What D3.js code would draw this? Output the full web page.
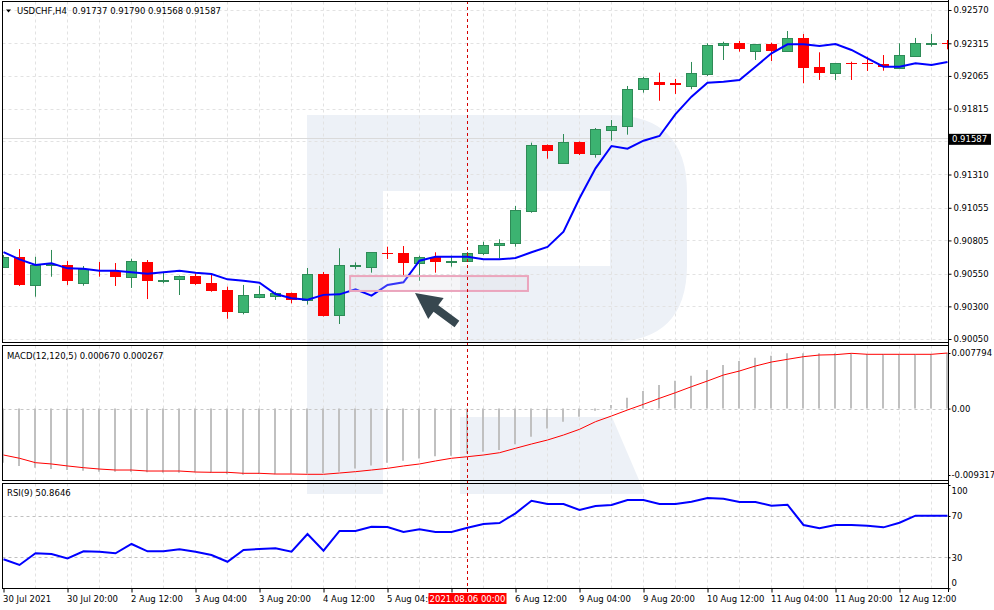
<!DOCTYPE html>
<html>
<head>
<meta charset="utf-8">
<script src="https://cdn.jsdelivr.net/npm/d3@7"></script>
<style>
	body { margin: 0; background: #fff; }
	svg text { font-family: "DejaVu Sans", sans-serif; font-size: 8.5px; fill: #000; white-space: pre; }
</style>
</head>
<body>
<div id="chart"></div>
<script>
// USDCHF H4 candles, index 0 = 30 Jul 04:00
const opens = [
	0.90604, 0.90676, 0.90466, 0.90617, 0.90617, 0.90477, 0.90578, 0.90571, 0.90527, 0.90640,
	0.90496, 0.90507, 0.90532, 0.90479, 0.90425, 0.90259, 0.90374, 0.90382, 0.90402, 0.90349,
	0.90548, 0.90234, 0.90614, 0.90604, 0.90709, 0.90706, 0.90630, 0.90680, 0.90645, 0.90651,
	0.90711, 0.90768, 0.90783, 0.91033, 0.91534, 0.91400, 0.91559, 0.91469, 0.91653, 0.91679,
	0.91963, 0.92019, 0.92011, 0.91990, 0.92082, 0.92300, 0.92317, 0.92258, 0.92312, 0.92258,
	0.92358, 0.92133, 0.92090, 0.92166, 0.92166, 0.92156, 0.92128, 0.92220, 0.92313, 0.92315,
];
const highs = [
	0.90693, 0.90739, 0.90680, 0.90732, 0.90647, 0.90609, 0.90640, 0.90632, 0.90665, 0.90655,
	0.90565, 0.90536, 0.90553, 0.90542, 0.90451, 0.90464, 0.90456, 0.90412, 0.90406, 0.90594,
	0.90563, 0.90745, 0.90637, 0.90716, 0.90757, 0.90762, 0.90688, 0.90714, 0.90688, 0.90716,
	0.90795, 0.90814, 0.91069, 0.91554, 0.91540, 0.91620, 0.91563, 0.91666, 0.91727, 0.91988,
	0.92059, 0.92090, 0.92042, 0.92172, 0.92315, 0.92327, 0.92333, 0.92310, 0.92320, 0.92409,
	0.92386, 0.92246, 0.92164, 0.92174, 0.92212, 0.92225, 0.92315, 0.92356, 0.92386, 0.92340,
];
const lows = [
	0.90594, 0.90456, 0.90374, 0.90527, 0.90464, 0.90458, 0.90527, 0.90456, 0.90441, 0.90356,
	0.90477, 0.90387, 0.90464, 0.90412, 0.90205, 0.90239, 0.90362, 0.90349, 0.90323, 0.90314,
	0.90222, 0.90165, 0.90584, 0.90558, 0.90663, 0.90527, 0.90496, 0.90558, 0.90604, 0.90642,
	0.90693, 0.90668, 0.90757, 0.91017, 0.91431, 0.91393, 0.91459, 0.91439, 0.91569, 0.91615,
	0.91937, 0.91875, 0.91927, 0.91963, 0.92064, 0.92187, 0.92251, 0.92187, 0.92179, 0.92251,
	0.92009, 0.92034, 0.92034, 0.92034, 0.92103, 0.92105, 0.92123, 0.92218, 0.92289, 0.92269,
];
const closes = [
	0.90676, 0.90464, 0.90614, 0.90628, 0.90496, 0.90584, 0.90573, 0.90527, 0.90647, 0.90496,
	0.90502, 0.90532, 0.90474, 0.90420, 0.90259, 0.90387, 0.90395, 0.90402, 0.90349, 0.90548,
	0.90226, 0.90617, 0.90617, 0.90714, 0.90704, 0.90630, 0.90680, 0.90642, 0.90649, 0.90712,
	0.90770, 0.90783, 0.91036, 0.91534, 0.91488, 0.91559, 0.91469, 0.91656, 0.91679, 0.91963,
	0.92047, 0.91999, 0.91993, 0.92087, 0.92302, 0.92320, 0.92274, 0.92306, 0.92258, 0.92356,
	0.92128, 0.92085, 0.92162, 0.92154, 0.92156, 0.92136, 0.92225, 0.92315, 0.92315, 0.92313,
];
// blue moving average
const maValues = [
	0.90716, 0.90660, 0.90617, 0.90630, 0.90591, 0.90588, 0.90573, 0.90573, 0.90561, 0.90550,
	0.90561, 0.90573, 0.90558, 0.90548, 0.90507, 0.90496, 0.90481, 0.90395, 0.90362, 0.90351,
	0.90388, 0.90392, 0.90431, 0.90382, 0.90464, 0.90484, 0.90650, 0.90680, 0.90680, 0.90680,
	0.90660, 0.90660, 0.90670, 0.90714, 0.90755, 0.90872, 0.91128, 0.91357, 0.91528, 0.91508,
	0.91569, 0.91605, 0.91773, 0.91906, 0.92013, 0.92021, 0.92034, 0.92136, 0.92238, 0.92307,
	0.92307, 0.92294, 0.92310, 0.92264, 0.92200, 0.92136, 0.92136, 0.92162, 0.92149, 0.92172,
];
const macdHist = [
	-0.00759, -0.00805, -0.00829, -0.00848, -0.00862, -0.00871, -0.00885, -0.00885, -0.00890, -0.00894,
	-0.00899, -0.00899, -0.00894, -0.00904, -0.00922, -0.00927, -0.00918, -0.00922, -0.00911, -0.00911,
	-0.00904, -0.00885, -0.00840, -0.00798, -0.00759, -0.00731, -0.00700, -0.00669, -0.00661, -0.00630,
	-0.00605, -0.00581, -0.00501, -0.00395, -0.00280, -0.00184, -0.00114, -0.00030, 0.00050, 0.00153,
	0.00246, 0.00331, 0.00391, 0.00461, 0.00541, 0.00611, 0.00667, 0.00714, 0.00742, 0.00775,
	0.00775, 0.00775, 0.00775, 0.00779, 0.00765, 0.00765, 0.00761, 0.00761, 0.00765, 0.00779,
];
const macdSignal = [
	-0.00651, -0.00697, -0.00759, -0.00777, -0.00805, -0.00829, -0.00848, -0.00862, -0.00862, -0.00876,
	-0.00876, -0.00876, -0.00890, -0.00894, -0.00894, -0.00908, -0.00908, -0.00918, -0.00918, -0.00922,
	-0.00922, -0.00904, -0.00885, -0.00862, -0.00838, -0.00805, -0.00777, -0.00735, -0.00697, -0.00675,
	-0.00651, -0.00619, -0.00557, -0.00497, -0.00441, -0.00371, -0.00291, -0.00184, -0.00104, -0.00020,
	0.00060, 0.00144, 0.00223, 0.00307, 0.00387, 0.00471, 0.00527, 0.00597, 0.00653, 0.00691,
	0.00728, 0.00751, 0.00756, 0.00775, 0.00761, 0.00761, 0.00761, 0.00761, 0.00761, 0.00779,
];
const rsiValues = [
	28.1, 22.6, 33.9, 33.2, 29.0, 35.8, 35.4, 33.9, 42.9, 35.8,
	35.8, 37.8, 35.4, 32.2, 25.7, 37.1, 38.0, 38.7, 35.4, 52.6,
	36.4, 55.5, 55.5, 59.6, 59.3, 54.5, 57.1, 54.5, 54.5, 58.7,
	62.2, 63.2, 72.6, 84.8, 81.6, 81.6, 75.8, 79.7, 80.6, 85.5,
	85.5, 81.6, 81.6, 83.8, 87.4, 86.7, 83.5, 83.5, 80.0, 80.9,
	61.3, 58.1, 61.3, 61.3, 60.6, 59.0, 63.5, 70.3, 70.3, 70.3,
];

// the 0.91565 label sits under the last-price box, so it has no text
const priceTicks = [0.9257, 0.92315, 0.92065, 0.91815, 0.91565, 0.9131, 0.91055, 0.90805, 0.9055, 0.903, 0.9005];
const priceTickLabels = ["0.92570", "0.92315", "0.92065", "0.91815", "", "0.91310", "0.91055", "0.90805", "0.90550", "0.90300", "0.90050"];
const macdTicks = [0.007794, 0, -0.009317];
const macdTickLabels = ["0.007794", "0.00", "-0.009317"];
const rsiTicks = [100, 70, 30, 0];
const timeTickBars = [0, 4, 8, 12, 16, 20, 24, 28, 32, 36, 40, 44, 48, 52, 56];
// bar 28 label is covered by the crosshair date box
const timeTickLabels = [
	"30 Jul 2021", "30 Jul 20:00", "2 Aug 12:00", "3 Aug 04:00", "3 Aug 20:00",
	"4 Aug 12:00", "5 Aug 04:00", "", "6 Aug 12:00", "9 Aug 04:00",
	"9 Aug 20:00", "10 Aug 12:00", "11 Aug 04:00", "11 Aug 20:00", "12 Aug 12:00",
];
const lastPrice = 0.91587;
const crossBar = 29;
const crossLabel = "2021.08.06 00:00";
// highlighted zone and arrow, in bar / price units
const zoneBars = [21.66, 32.78];
const zonePrices = [0.90418, 0.90532];
const arrowTail = [28.34, 0.90165];
const arrowTip = [25.72, 0.90402];

const left = 2.5, right = 948.5;
const panels = {
	main: [1.5, 342.5],
	macd: [345.5, 480.5],
	rsi: [483.5, 588.5],
};

const x = d3.scaleLinear().domain([0, 59]).range([3.5, 947.5]);
const yPrice = d3.scaleLinear().domain([0.9005, 0.9257]).range([339, 10]);
const yMacd = d3.scaleLinear().domain([-0.009317, 0.007794]).range([475, 353]);
const yRsi = d3.scaleLinear().domain([0, 100]).range([588.3, 485]);

const idx = d3.range(opens.length);

const svg = d3.select("#chart").append("svg").attr("width", 994).attr("height", 610);

const defs = svg.append("defs");
Object.entries(panels).forEach(([name, p]) => {
	defs.append("clipPath").attr("id", "clip-" + name)
		.append("rect").attr("x", left + 0.5).attr("y", p[0] + 0.5)
		.attr("width", right - left - 1).attr("height", p[1] - p[0] - 1);
});
defs.append("filter").attr("id", "soft")
	.append("feGaussianBlur").attr("stdDeviation", 0.7);

// watermark logo
const wm = svg.append("g").attr("fill", "#edf1f7");
wm.append("rect").attr("x", 307).attr("y", 115).attr("width", 76).attr("height", 379);
wm.append("path").attr("d", "M383,115H610Q687,115 687,192V265Q687,342 610,342H460V266H610V191H383Z")
	.attr("clip-path", "url(#clip-main)");
wm.append("path").attr("d", "M460,417H612L645,494H460Z");

// grids
const gridColor = "#e2e2e2";
Object.entries(panels).forEach(([name, p]) => {
	svg.append("g").attr("clip-path", "url(#clip-" + name + ")")
		.selectAll("line").data(idx.filter((i) => i % 2 === 0 && i > 0)).enter().append("line")
		.attr("x1", (i) => x(i)).attr("x2", (i) => x(i))
		.attr("y1", p[0]).attr("y2", p[1])
		.attr("stroke", gridColor).attr("stroke-dasharray", "3,3");
});
svg.append("g").attr("clip-path", "url(#clip-main)")
	.selectAll("line").data(priceTicks).enter().append("line")
	.attr("x1", left).attr("x2", right)
	.attr("y1", (d) => Math.round(yPrice(d)) + 0.5).attr("y2", (d) => Math.round(yPrice(d)) + 0.5)
	.attr("stroke", gridColor).attr("stroke-dasharray", "3,3");

// current price line
svg.append("line")
	.attr("x1", left).attr("x2", right)
	.attr("y1", Math.round(yPrice(lastPrice)) + 0.5).attr("y2", Math.round(yPrice(lastPrice)) + 0.5)
	.attr("stroke", "#dadada");

// candles
const candles = svg.append("g").attr("clip-path", "url(#clip-main)")
	.selectAll("g").data(idx).enter().append("g");
const up = (i) => closes[i] >= opens[i];

candles.append("line")
	.attr("x1", (i) => x(i)).attr("x2", (i) => x(i))
	.attr("y1", (i) => yPrice(highs[i])).attr("y2", (i) => yPrice(lows[i]))
	.attr("stroke", (i) => (up(i) ? "#2e8b57" : "#ff0000"));

candles.append("rect")
	.attr("x", (i) => (up(i) ? x(i) - 5 : x(i) - 5.5))
	.attr("width", (i) => (up(i) ? 10 : 11))
	.attr("y", (i) => {
		const t = Math.round(yPrice(Math.max(opens[i], closes[i])));
		return up(i) ? t + 0.5 : t;
	})
	.attr("height", (i) => {
		const h = Math.round(yPrice(Math.min(opens[i], closes[i]))) - Math.round(yPrice(Math.max(opens[i], closes[i])));
		return Math.max(h, 1);
	})
	.attr("fill", (i) => (up(i) ? "#3cb371" : "#ff0000"))
	.attr("stroke", (i) => (up(i) ? "#2e8b57" : "none"));

// moving average
svg.append("path").datum(idx).attr("clip-path", "url(#clip-main)")
	.attr("fill", "none").attr("stroke", "#0000ff").attr("stroke-width", 2)
	.attr("d", d3.line().x((i) => x(i)).y((i) => yPrice(maValues[i])));

// highlighted zone
svg.append("rect")
	.attr("x", x(zoneBars[0])).attr("width", x(zoneBars[1]) - x(zoneBars[0]))
	.attr("y", yPrice(zonePrices[1])).attr("height", yPrice(zonePrices[0]) - yPrice(zonePrices[1]))
	.attr("fill", "rgba(215,215,225,0.25)").attr("stroke", "#eba5bd").attr("stroke-width", 2)
	.attr("filter", "url(#soft)");

// arrow
(function () {
	const tx = x(arrowTip[0]), ty = yPrice(arrowTip[1]);
	const sx = x(arrowTail[0]), sy = yPrice(arrowTail[1]);
	const len = Math.hypot(tx - sx, ty - sy);
	const ux = (tx - sx) / len, uy = (ty - sy) / len;
	const nx = -uy, ny = ux;
	const head = 26, hw = 13, sw = 4;
	const bx = tx - ux * head, by = ty - uy * head;
	const pts = [
		[tx, ty],
		[bx + nx * hw, by + ny * hw],
		[bx + nx * sw, by + ny * sw],
		[sx + nx * sw, sy + ny * sw],
		[sx - nx * sw, sy - ny * sw],
		[bx - nx * sw, by - ny * sw],
		[bx - nx * hw, by - ny * hw],
	];
	svg.append("path").attr("d", "M" + pts.map((p) => p.join(",")).join("L") + "Z")
		.attr("fill", "#37474f");
})();

// MACD panel
svg.append("line").attr("x1", left).attr("x2", right)
	.attr("y1", Math.round(yMacd(0)) + 0.5).attr("y2", Math.round(yMacd(0)) + 0.5)
	.attr("stroke", "#c8c8c8").attr("stroke-dasharray", "3,3");
svg.append("g").attr("clip-path", "url(#clip-macd)")
	.selectAll("line").data(idx).enter().append("line")
	.attr("x1", (i) => x(i) - 0.5).attr("x2", (i) => x(i) - 0.5)
	.attr("y1", yMacd(0)).attr("y2", (i) => yMacd(macdHist[i]))
	.attr("stroke", "#c0c0c0").attr("stroke-width", 2);
svg.append("path").datum(idx).attr("clip-path", "url(#clip-macd)")
	.attr("fill", "none").attr("stroke", "#ff0000").attr("stroke-width", 1)
	.attr("d", d3.line().x((i) => x(i)).y((i) => yMacd(macdSignal[i])));

// RSI panel
svg.append("g").selectAll("line").data([70, 30]).enter().append("line")
	.attr("x1", left).attr("x2", right)
	.attr("y1", (d) => Math.round(yRsi(d)) + 0.5).attr("y2", (d) => Math.round(yRsi(d)) + 0.5)
	.attr("stroke", "#c0c0c0").attr("stroke-dasharray", "3,3");
svg.append("path").datum(idx).attr("clip-path", "url(#clip-rsi)")
	.attr("fill", "none").attr("stroke", "#0000ff").attr("stroke-width", 2)
	.attr("d", d3.line().x((i) => x(i)).y((i) => yRsi(rsiValues[i])));

// crosshair
svg.append("line").attr("x1", x(crossBar)).attr("x2", x(crossBar))
	.attr("y1", 1).attr("y2", 592)
	.attr("stroke", "#d40000").attr("stroke-dasharray", "3,3");

// panel frames
Object.values(panels).forEach((p) => {
	svg.append("rect").attr("x", left).attr("y", p[0])
		.attr("width", right - left).attr("height", p[1] - p[0])
		.attr("fill", "none").attr("stroke", "#000");
});
svg.append("line").attr("x1", right).attr("x2", right).attr("y1", 0).attr("y2", 592).attr("stroke", "#000");

// axes
const priceAxis = svg.append("g").attr("transform", "translate(" + right + ",0)")
	.call(d3.axisRight(yPrice).tickValues(priceTicks).tickSize(3).tickPadding(2)
		.tickFormat((d, i) => priceTickLabels[i]));
priceAxis.select(".domain").remove();
priceAxis.selectAll("text").attr("font-size", null).attr("font-family", null);

const macdAxis = svg.append("g").attr("transform", "translate(" + right + ",0)")
	.call(d3.axisRight(yMacd).tickValues(macdTicks).tickSize(2).tickPadding(1)
		.tickFormat((d, i) => macdTickLabels[i]));
macdAxis.select(".domain").remove();
macdAxis.selectAll("text").attr("font-size", null).attr("font-family", null);

const rsiAxis = svg.append("g").attr("transform", "translate(" + right + ",0)")
	.call(d3.axisRight(yRsi).tickValues(rsiTicks).tickSize(2).tickPadding(1));
rsiAxis.select(".domain").remove();
rsiAxis.selectAll("text").attr("font-size", null).attr("font-family", null)
	.attr("y", (d) => (d === 100 ? 5.5 : d === 0 ? -5.5 : 0));

const timeAxis = svg.append("g").attr("transform", "translate(0," + panels.rsi[1] + ")")
	.call(d3.axisBottom(x).tickValues(timeTickBars).tickSize(4).tickPadding(3)
		.tickFormat((d, i) => timeTickLabels[i]));
timeAxis.select(".domain").remove();
timeAxis.selectAll("text").attr("font-size", null).attr("font-family", null)
	.attr("text-anchor", "start").attr("x", -1);

// current price box
svg.append("rect").attr("x", 949).attr("y", yPrice(lastPrice) - 4.5)
	.attr("width", 42).attr("height", 11).attr("fill", "#000");
svg.append("text").attr("x", 952).attr("y", yPrice(lastPrice) + 4)
	.style("fill", "#fff").text(lastPrice.toFixed(5));

// crosshair time box
svg.append("rect").attr("x", x(crossBar) - 39).attr("y", 593)
	.attr("width", 78).attr("height", 11).attr("fill", "#ff0000");
svg.append("text").attr("x", x(crossBar)).attr("y", 601.5)
	.attr("text-anchor", "middle").style("fill", "#fff").text(crossLabel);

// panel captions
svg.append("path").attr("d", "M6,9.5H11L8.5,12.5Z").attr("fill", "#000");
svg.append("text").attr("x", 17).attr("y", 13.5).text("USDCHF,H4  0.91737 0.91790 0.91568 0.91587");
svg.append("text").attr("x", 7).attr("y", 358.5).text("MACD(12,120,5) 0.000670 0.000267");
svg.append("text").attr("x", 7).attr("y", 496).text("RSI(9) 50.8646");
</script>
</body>
</html>
